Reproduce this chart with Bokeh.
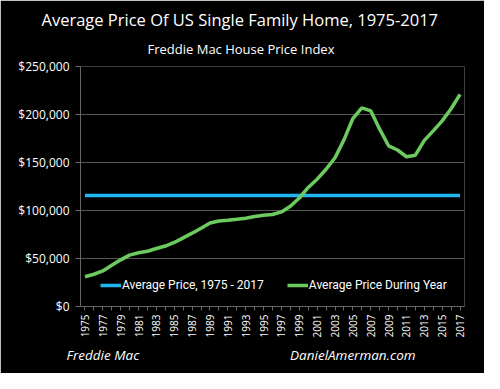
from bokeh.plotting import figure
from bokeh.models import (FixedTicker, NumeralTickFormatter, Title, Legend, LegendItem,
                          Range1d)
from bokeh.embed import file_html
from bokeh.resources import INLINE
import math

years = list(range(1975, 2018))
avg_price_year = [31000, 33600, 37000, 43000, 48600, 53500, 56000, 57600, 60400, 63000,
                  66700, 71500, 76400, 81600, 87000, 89000, 89900, 91000, 92000, 93700,
                  95000, 95800, 98500, 104500, 113000, 124000, 132600, 143000, 155000, 173600,
                  195800, 207000, 203800, 184700, 167400, 163000, 156000, 157600, 173000, 183000,
                  193400, 206000, 221000]
avg_price_period = [115500] * len(years)
y_ticks = [0, 50000, 100000, 150000, 200000, 250000]
labeled_years = years[::2]

FONT = "Open Sans"
p = figure(width=484, height=373, output_backend="svg", toolbar_location=None,
           x_range=Range1d(1974.5, 2017.5), y_range=Range1d(0, 250000),
           background_fill_color="black", border_fill_color="black",
           min_border_left=80, min_border_right=20, min_border_top=66, min_border_bottom=67)
p.outline_line_color = None

r_blue = p.line(years, avg_price_period, line_color="#1FB5EE", line_width=3.5)
r_green = p.line(years, avg_price_year, line_color="#6CCB5F", line_width=3.5)

# axes
p.xgrid.grid_line_color = None
p.ygrid.grid_line_color = "#555555"
p.ygrid.grid_line_width = 1
p.yaxis.ticker = FixedTicker(ticks=y_ticks)
p.yaxis.formatter = NumeralTickFormatter(format="$0,0")
p.xaxis.ticker = FixedTicker(ticks=years)
p.xaxis.major_label_overrides = {y: (str(y) if y in labeled_years else "") for y in years}
p.xaxis.major_label_orientation = math.pi / 2
for ax in (p.xaxis, p.yaxis):
    ax.axis_line_color = "#666666"
    ax.major_tick_line_color = "#666666"
    ax.minor_tick_line_color = None
    ax.major_tick_in = 0
    ax.major_label_text_color = "white"
    ax.major_label_text_font = FONT
p.yaxis.major_tick_out = 5
p.yaxis.major_label_text_font_size = "12px"
p.yaxis.major_label_standoff = 6
p.xaxis.major_tick_out = 4
p.xaxis.major_label_text_font_size = "10px"
p.xaxis.major_label_standoff = 4

legend = Legend(items=[LegendItem(label="Average Price, 1975 - 2017", renderers=[r_blue]),
                       LegendItem(label="Average Price During Year", renderers=[r_green])],
                orientation="horizontal", location=(20, 14),
                background_fill_alpha=0, border_line_color=None,
                label_text_color="white", label_text_font="Roboto", label_text_font_size="12px",
                glyph_width=21, glyph_height=14, label_height=14, label_standoff=1,
                spacing=23, padding=0, margin=0)
p.add_layout(legend, "center")

# titles: p.title is the main title (outermost); the subtitle sits closer to the frame
p.title.text = "Average Price Of US Single Family Home, 1975-2017"
p.title.align = "left"
p.title.offset = -39
p.title.text_color = "white"
p.title.text_font = FONT
p.title.text_font_size = "16.5px"
p.title.text_font_style = "normal"
p.title.standoff = -3

p.add_layout(Title(text="Freddie Mac House Price Index", align="left",
                   offset=67, text_color="white", text_font=FONT, text_font_size="13px",
                   text_font_style="normal", standoff=17), "above")

footer = "Freddie Mac" + "\u00a0" * 43 + "DanielAmerman.com"
p.add_layout(Title(text=footer, align="left", offset=-14, text_color="white",
                   text_font=FONT, text_font_size="13.5px", text_font_style="italic",
                   standoff=6), "below")

html = file_html(p, INLINE)
html = html.replace("<body>", '<body style="background-color:black">', 1)
open("out.html", "w").write(html)
